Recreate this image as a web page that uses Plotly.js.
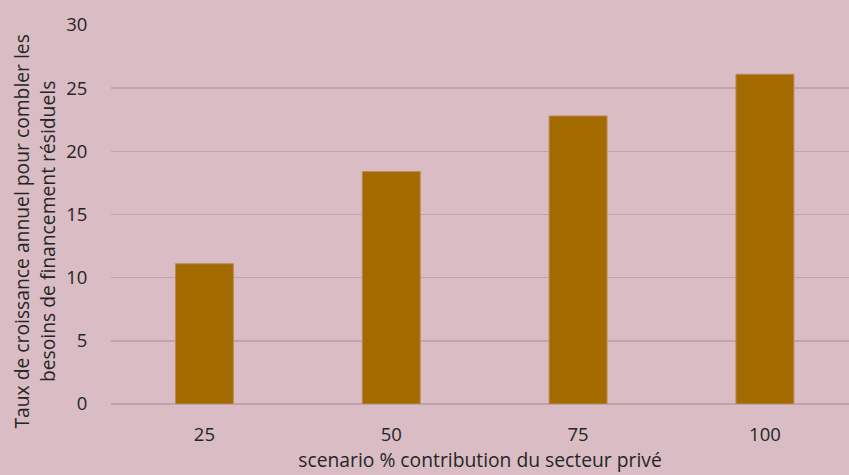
<!DOCTYPE html>
<html>
<head>
<meta charset="utf-8">
<script src="https://cdn.plot.ly/plotly-3.0.1.min.js"></script>
<style>
  html, body { margin: 0; padding: 0; background: #D9BCC4; }
  #chart { width: 849px; height: 475px; }
</style>
</head>
<body>
<div id="chart"></div>
<script>
// Scenario categories (% private-sector contribution) and annual growth rates
const scenarios = ['25', '50', '75', '100'];
const growthRates = [11.1, 18.4, 22.8, 26.1];
const yTicks = [0, 5, 10, 15, 20, 25, 30];

const xTitle = 'scenario % contribution du secteur privé';
const yTitleLines = ['Taux de croissance annuel pour combler les', 'besoins de financement résiduels'];

const bg = '#D9BCC4';
const gridColor = '#BFA4AC';
const textColor = '#262626';
const fontFamily = '"Open Sans", Lato, sans-serif';

const trace = {
  type: 'bar',
  x: scenarios,
  y: growthRates,
  width: 0.31,
  marker: { color: '#A36A00', line: { color: '#BD8A55', width: 1 } },
  hoverinfo: 'x+y'
};

const layout = {
  width: 849,
  height: 475,
  paper_bgcolor: bg,
  plot_bgcolor: bg,
  margin: { l: 111, r: 0, t: 25, b: 71 },
  showlegend: false,
  font: { family: fontFamily, color: textColor, size: 18.5 },
  xaxis: {
    type: 'category',
    range: [-0.5, 3.45],
    showgrid: false,
    showline: false,
    zeroline: false,
    ticks: 'outside',
    ticklen: 14,
    tickcolor: 'rgba(0,0,0,0)',
    tickfont: { family: fontFamily, size: 18.5, color: textColor },
    title: { text: xTitle, font: { family: fontFamily, size: 19.3, color: textColor }, standoff: 5 }
  },
  yaxis: {
    range: [0, 30],
    tickvals: yTicks,
    showgrid: true,
    gridcolor: gridColor,
    gridwidth: 1.5,
    zeroline: true,
    zerolinecolor: gridColor,
    zerolinewidth: 1.5,
    showline: false,
    ticks: 'outside',
    ticklen: 19,
    tickcolor: 'rgba(0,0,0,0)',
    tickfont: { family: fontFamily, size: 18.5, color: textColor }
  },
  annotations: [
    {
      text: yTitleLines.join('<br>'),
      xref: 'paper', yref: 'paper',
      x: 0, y: 0.455,
      xshift: -77,
      xanchor: 'center', yanchor: 'middle',
      textangle: -90,
      showarrow: false,
      align: 'center',
      font: { family: fontFamily, size: 19.3, color: textColor }
    }
  ]
};

Plotly.newPlot('chart', [trace], layout, { displayModeBar: false, staticPlot: true });
</script>
</body>
</html>
